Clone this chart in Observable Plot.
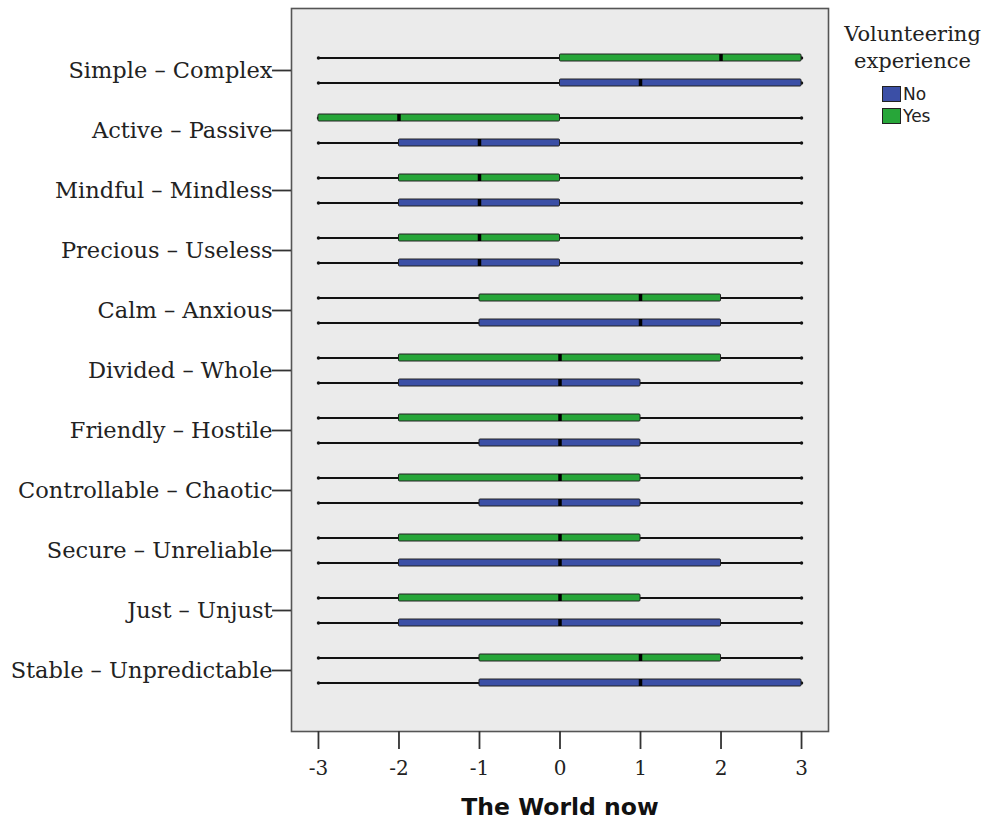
<!DOCTYPE html>
<html>
<head>
<meta charset="utf-8">
<script src="https://cdn.jsdelivr.net/npm/d3@7"></script>
<script src="https://cdn.jsdelivr.net/npm/@observablehq/plot@0.6"></script>
<style>
  html, body { margin: 0; padding: 0; background: #fff; }
  #wrap { position: relative; width: 991px; height: 824px; }
  #legend { position: absolute; left: 834px; top: 21px; width: 157px; font-family: "DejaVu Serif", serif; color: #222; }
  #legend .title { text-align: center; font-size: 21px; line-height: 27px; }
  #legend .item { display: flex; align-items: center; margin-left: 48px; font-family: "DejaVu Sans", sans-serif; font-size: 17px; line-height: 22px; height: 22px; }
  #legend .sw { width: 19px; height: 16px; border: 1.5px solid #222; margin-right: 2px; box-sizing: border-box; }
</style>
</head>
<body>
<div id="wrap">
  <div id="chart"></div>
  <div id="legend">
    <div class="title">Volunteering<br>experience</div>
    <div style="height:8px"></div>
    <div class="item"><span class="sw" style="background:#3b4fa6"></span>No</div>
    <div class="item"><span class="sw" style="background:#27a639"></span>Yes</div>
  </div>
</div>
<script>
const categories = ["Simple – Complex", "Active – Passive", "Mindful – Mindless", "Precious – Useless",
  "Calm – Anxious", "Divided – Whole", "Friendly – Hostile", "Controllable – Chaotic",
  "Secure – Unreliable", "Just – Unjust", "Stable – Unpredictable"];

// Volunteering experience: Yes
const yesMin = [-3, -3, -3, -3, -3, -3, -3, -3, -3, -3, -3];
const yesQ1  = [ 0, -3, -2, -2, -1, -2, -2, -2, -2, -2, -1];
const yesMed = [ 2, -2, -1, -1,  1,  0,  0,  0,  0,  0,  1];
const yesQ3  = [ 3,  0,  0,  0,  2,  2,  1,  1,  1,  1,  2];
const yesMax = [ 3,  3,  3,  3,  3,  3,  3,  3,  3,  3,  3];

// Volunteering experience: No
const noMin = [-3, -3, -3, -3, -3, -3, -3, -3, -3, -3, -3];
const noQ1  = [ 0, -2, -2, -2, -1, -2, -1, -1, -2, -2, -1];
const noMed = [ 1, -1, -1, -1,  1,  0,  0,  0,  0,  0,  1];
const noQ3  = [ 3,  0,  0,  0,  2,  1,  1,  1,  2,  2,  3];
const noMax = [ 3,  3,  3,  3,  3,  3,  3,  3,  3,  3,  3];

const xTicks = [-3, -2, -1, 0, 1, 2, 3];
const groupColors = {Yes: "#27a639", No: "#3b4fa6"};

const yes = categories.map((c, i) => ({cat: c, min: yesMin[i], q1: yesQ1[i], med: yesMed[i], q3: yesQ3[i], max: yesMax[i]}));
const no = categories.map((c, i) => ({cat: c, min: noMin[i], q1: noQ1[i], med: noMed[i], q3: noQ3[i], max: noMax[i]}));

function boxMarks(data, color, off, insetTop, insetBottom) {
  return [
    Plot.ruleY(data, {y: "cat", x1: "min", x2: "max", dy: off, stroke: "#111", strokeWidth: 1.8}),
    Plot.dot(data, {y: "cat", x: "min", dy: off, r: 1.7, fill: "#111", stroke: "none"}),
    Plot.dot(data, {y: "cat", x: "max", dy: off, r: 1.7, fill: "#111", stroke: "none"}),
    Plot.barX(data, {y: "cat", x1: "q1", x2: "q3", fill: color, stroke: "#222", strokeWidth: 1, insetTop, insetBottom, rx: 1}),
    Plot.tickX(data, {y: "cat", x: "med", stroke: "#000", strokeWidth: 3.5, insetTop, insetBottom})
  ];
}

const chart = Plot.plot({
  width: 991,
  height: 824,
  marginLeft: 291,
  marginRight: 163,
  marginTop: 8,
  marginBottom: 93,
  style: {fontFamily: "'DejaVu Serif', serif", background: "#fff", color: "#222"},
  x: {domain: [-3.335, 3.335]},
  y: {domain: categories, type: "band", paddingInner: 0, paddingOuter: 0.525},
  marks: [
    Plot.frame({fill: "#ebebeb", stroke: "none"}),
    ...boxMarks(yes, groupColors.Yes, -12.5, 14, 39),
    ...boxMarks(no, groupColors.No, 12.5, 39, 14),
    Plot.frame({stroke: "#555", strokeWidth: 1.6}),
    Plot.axisY({tickSize: 19, tickPadding: 0, fontSize: 22.5, stroke: "#333", strokeWidth: 1.8, label: null}),
    Plot.axisX({ticks: xTicks, tickSize: 18, tickPadding: 11, fontSize: 20, stroke: "#333", strokeWidth: 1.8, label: null, tickFormat: d => String(d)}),
    Plot.text(["The World now"], {frameAnchor: "bottom", dy: 83, fontSize: 23.5, fontWeight: "bold", fontFamily: "'DejaVu Sans', sans-serif", fill: "#111"})
  ]
});
document.getElementById("chart").appendChild(chart);
</script>
</body>
</html>
